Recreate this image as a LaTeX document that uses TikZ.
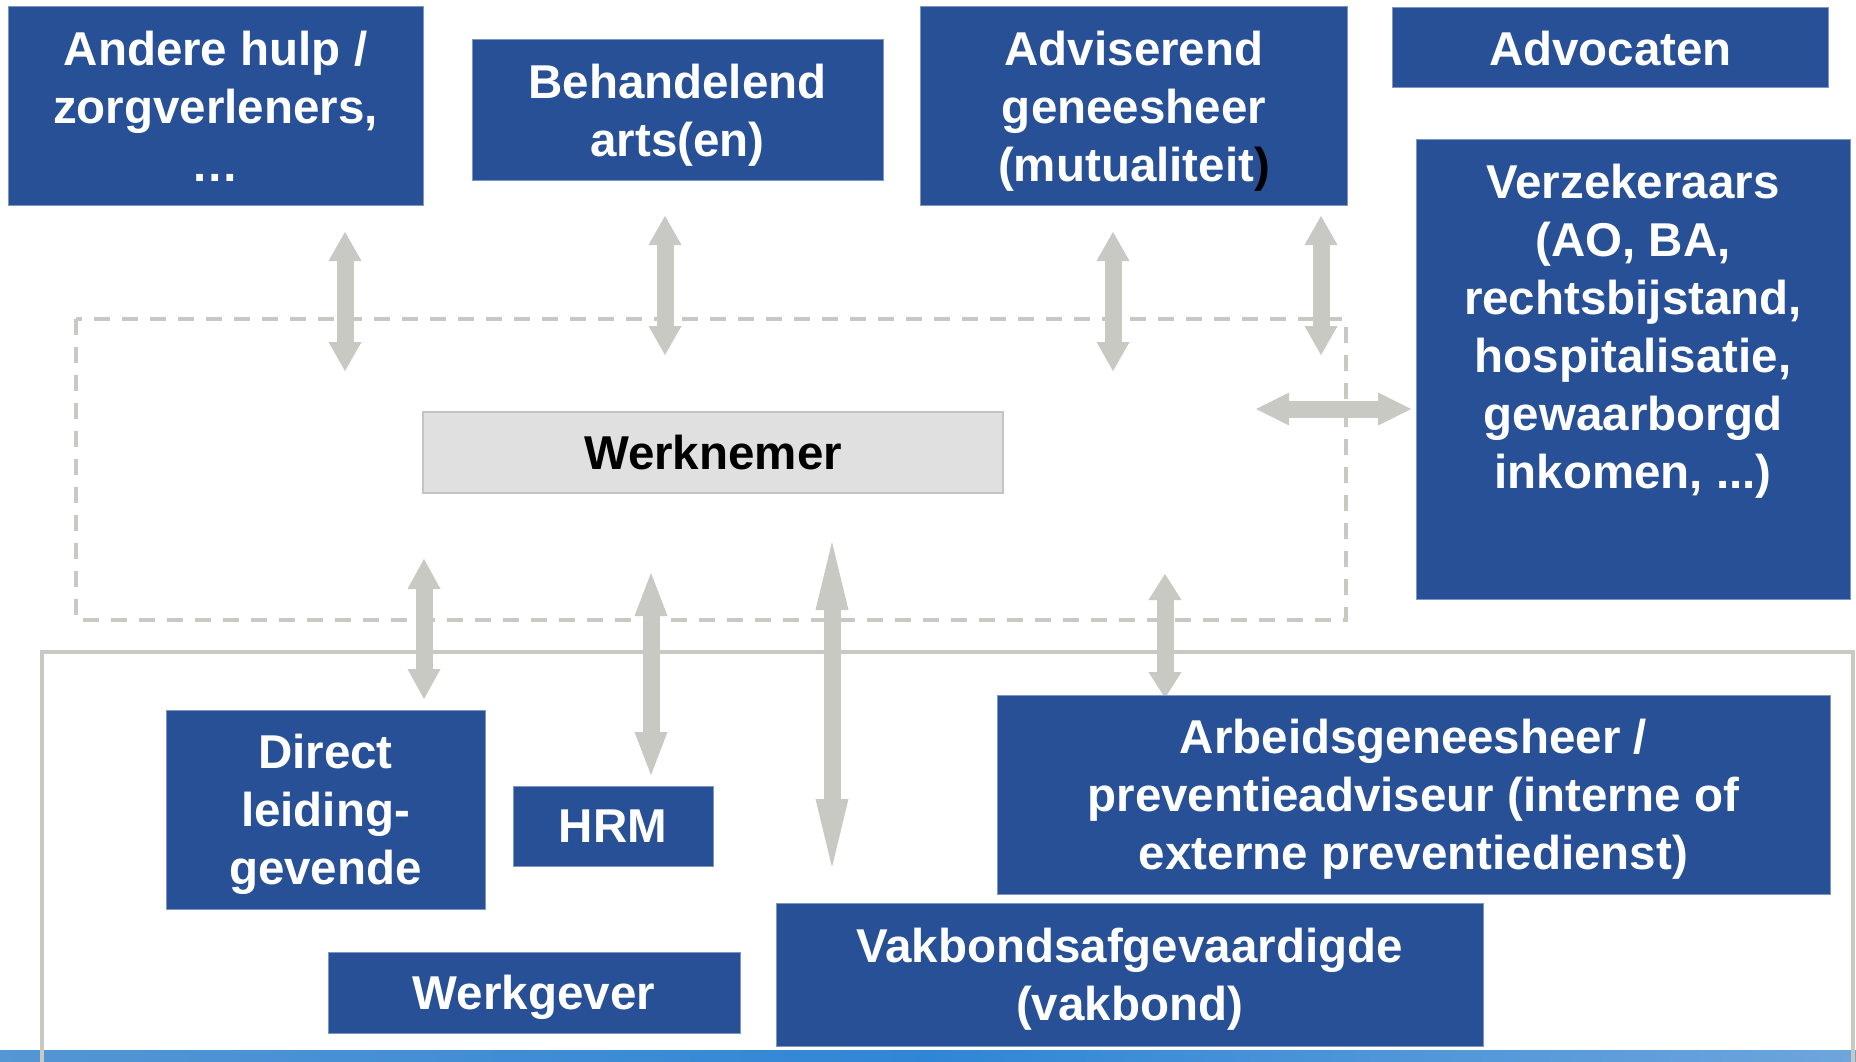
\documentclass[tikz,border=0pt]{standalone}
\usepackage{fontspec}
\setmainfont{Liberation Sans}
\usetikzlibrary{arrows.meta}
\definecolor{boxblue}{RGB}{39,80,151}
\definecolor{boxedge}{RGB}{125,150,195}
\definecolor{arrgray}{RGB}{200,201,195}
\definecolor{wnfill}{RGB}{224,224,224}
\definecolor{wnedge}{RGB}{196,197,192}
\definecolor{stripA}{RGB}{85,150,212}
\definecolor{stripB}{RGB}{48,134,214}
\definecolor{stripC}{RGB}{110,165,220}
\begin{document}
\begin{tikzpicture}[x=1pt,y=-1pt,
  bbox/.style={fill=boxblue, draw=boxedge, line width=1pt, text=white,
    font=\fontsize{47.5}{58}\selectfont\bfseries, align=center,
    inner sep=0pt, outer sep=0pt, text depth=0pt},
  wbox/.style={fill=wnfill, draw=wnedge, line width=2pt, text=black,
    font=\fontsize{47.5}{58}\selectfont\bfseries, align=center,
    inner sep=0pt, outer sep=0pt},
  btext/.style={text=white, font=\fontsize{47.5}{58}\selectfont\bfseries,
    align=center, inner sep=0pt},
  garrow/.style={draw=arrgray, line width=17pt,
    arrows={Triangle[width=33pt,length=#1,line width=0pt]-Triangle[width=33pt,length=#1,line width=0pt]}},
  framel/.style={draw=arrgray, line width=4pt},
  dashl/.style={draw=arrgray, line width=4pt, dash pattern=on 16pt off 12pt}
]
\useasboundingbox (0,0) rectangle (1856,1062);
\fill[white] (0,0) rectangle (1856,1062);

% bottom strip
\shade[left color=stripA, right color=stripC, middle color=stripB] (0,1050) rectangle (1856,1062);

% solid frame
\draw[framel] (42,1062) -- (42,652) -- (1853,652) -- (1853,1062);

% dashed box
\draw[dashl] (76,319) rectangle (1346,620);

% arrow end points
\coordinate (a1t) at (345,232);  \coordinate (a1b) at (345,371);
\coordinate (a2t) at (665,216);  \coordinate (a2b) at (665,355);
\coordinate (a3t) at (1113,232); \coordinate (a3b) at (1113,371);
\coordinate (a4t) at (1321,216); \coordinate (a4b) at (1321,355);
\coordinate (a5l) at (1256,409); \coordinate (a5r) at (1411,409);
\coordinate (b1t) at (424,559);  \coordinate (b1b) at (424,699);
\coordinate (b2t) at (651,573);  \coordinate (b2b) at (651,775);
\coordinate (b3t) at (832,542);  \coordinate (b3b) at (832,867);
\coordinate (b4t) at (1165,574); \coordinate (b4b) at (1165,698);

\draw[garrow=29pt] (a1t) -- (a1b);
\draw[garrow=29pt] (a2t) -- (a2b);
\draw[garrow=29pt] (a3t) -- (a3b);
\draw[garrow=29pt] (a4t) -- (a4b);
\draw[garrow=33pt] (a5l) -- (a5r);
\draw[garrow=30pt] (b1t) -- (b1b);
\draw[garrow=43pt] (b2t) -- (b2b);
\draw[garrow=68pt] (b3t) -- (b3b);
\draw[garrow=26pt] (b4t) -- (b4b);

% top boxes
\node[bbox, minimum width=415pt, minimum height=198pt] (andere) at (215.5,106)
  {Andere hulp /\\zorgverleners,\\…};
\node[bbox, minimum width=411pt, minimum height=141pt] (behandelend) at (677.5,110.5)
  {Behandelend\\arts(en)};
\node[bbox, minimum width=427pt, minimum height=198pt] (adviserend) at (1134,106)
  {Adviserend\\geneesheer\\(mutualiteit{\color{black})}};
\node[bbox, minimum width=436pt, minimum height=80pt] (advocaten) at (1610.5,48)
  {Advocaten};
\node[bbox, minimum width=434pt, minimum height=459pt] (verz) at (1633,369.5) {};
\node[btext, anchor=north] (verztext) at (1633,164)
  {Verzekeraars\\(AO, BA,\\rechtsbijstand,\\hospitalisatie,\\gewaarborgd\\inkomen, ...)};

% centre
\node[wbox, minimum width=580pt, minimum height=81pt] (werknemer) at (713,452.5)
  {Werknemer};

% bottom boxes
\node[bbox, minimum width=319pt, minimum height=199pt] (direct) at (325.5,809.5)
  {Direct\\leiding-\\gevende};
\node[bbox, minimum width=200pt, minimum height=80pt] (hrm) at (613,826)
  {HRM};
\node[bbox, minimum width=412pt, minimum height=81pt] (werkgever) at (534,992.5)
  {Werkgever};
\node[bbox, minimum width=707pt, minimum height=143pt] (vakbond) at (1129.5,974.5)
  {Vakbondsafgevaardigde\\(vakbond)};
\node[bbox, minimum width=833pt, minimum height=199pt] (arbeids) at (1413.5,794.5)
  {Arbeidsgeneesheer /\\preventieadviseur (interne of\\externe preventiedienst)};
\end{tikzpicture}
\end{document}
